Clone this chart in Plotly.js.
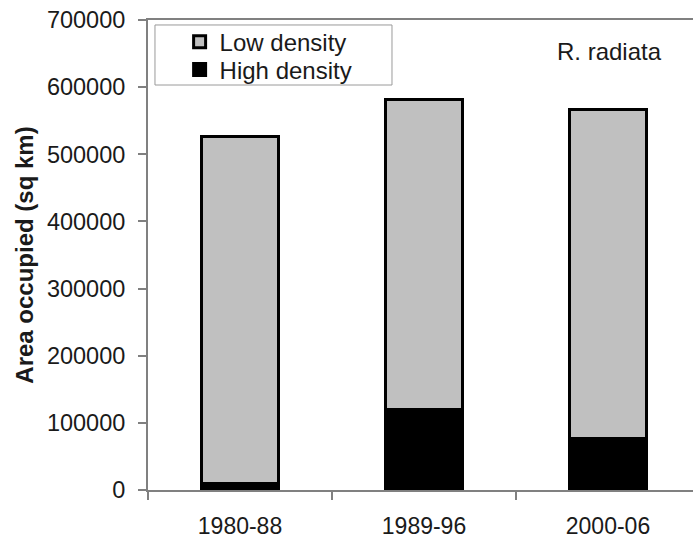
<!DOCTYPE html>
<html>
<head>
<meta charset="utf-8">
<script src="https://cdn.plot.ly/plotly-3.0.1.min.js"></script>
<style>html,body{margin:0;padding:0;background:#fff;}#chart{width:693px;height:540px;}</style>
</head>
<body>
<div id="chart"></div>
<script>
const periods = ["1980-88", "1989-96", "2000-06"];
const highDensity = [10000, 120000, 77000];
const lowDensity = [517000, 462000, 489000]; // stacked on top of high density (totals 527000, 582000, 566000)
const yTicks = [0, 100000, 200000, 300000, 400000, 500000, 600000, 700000];

const font = "Arial, 'Liberation Sans', sans-serif";
const txt = "#1a1a1a";

const traces = [
  {
    type: "bar", name: "High density", x: periods, y: highDensity,
    marker: {color: "#000000", line: {color: "#000000", width: 3}},
    width: 0.42, legend: "legend2"
  },
  {
    type: "bar", name: "Low density", x: periods, y: lowDensity,
    marker: {color: "#c0c0c0", line: {color: "#000000", width: 3}},
    width: 0.42, legend: "legend"
  }
];

const legendBase = {
  xanchor: "left", yanchor: "middle",
  borderwidth: 0, bgcolor: "rgba(0,0,0,0)",
  font: {family: font, size: 24, color: txt}
};

const layout = {
  width: 693, height: 540,
  margin: {l: 148, r: 0, t: 20, b: 50},
  barmode: "stack",
  paper_bgcolor: "#ffffff", plot_bgcolor: "#ffffff",
  font: {family: font, size: 23, color: txt},
  showlegend: true,
  legend: Object.assign({x: 0.058, y: 0.953}, legendBase),
  legend2: Object.assign({x: 0.058, y: 0.8936}, legendBase),
  xaxis: {
    type: "category",
    range: [-0.5, 2.462],
    tickson: "boundaries",
    ticks: "outside", ticklen: 8, tickwidth: 2, tickcolor: "#808080",
    showline: true, linecolor: "#808080", linewidth: 2, mirror: true,
    showgrid: false, zeroline: false,
    ticklabelstandoff: 14,
    tickfont: {family: font, size: 23, color: txt}
  },
  yaxis: {
    range: [0, 700000],
    tickmode: "array", tickvals: yTicks, ticktext: yTicks.map(String),
    ticks: "outside", ticklen: 8, tickwidth: 2, tickcolor: "#808080",
    showline: true, linecolor: "#808080", linewidth: 2,
    showgrid: false, zeroline: false,
    ticklabelstandoff: 8,
    tickfont: {family: font, size: 23.5, color: txt},
    title: {text: "<b>Area occupied (sq km)</b>", font: {family: font, size: 24, color: txt}, standoff: 6}
  },
  shapes: [
    {type: "rect", xref: "paper", yref: "paper",
     x0: 0.0128, x1: 0.4477, y0: 0.8617, y1: 0.9894,
     line: {color: "#9a9a9a", width: 1}, fillcolor: "#ffffff", layer: "below"}
  ],
  annotations: [
    {text: "R. radiata", xref: "paper", yref: "paper", x: 0.846, y: 0.932,
     xanchor: "center", yanchor: "middle", showarrow: false,
     font: {family: font, size: 24, color: txt}}
  ]
};

Plotly.newPlot("chart", traces, layout, {displayModeBar: false, staticPlot: true});
</script>
</body>
</html>
